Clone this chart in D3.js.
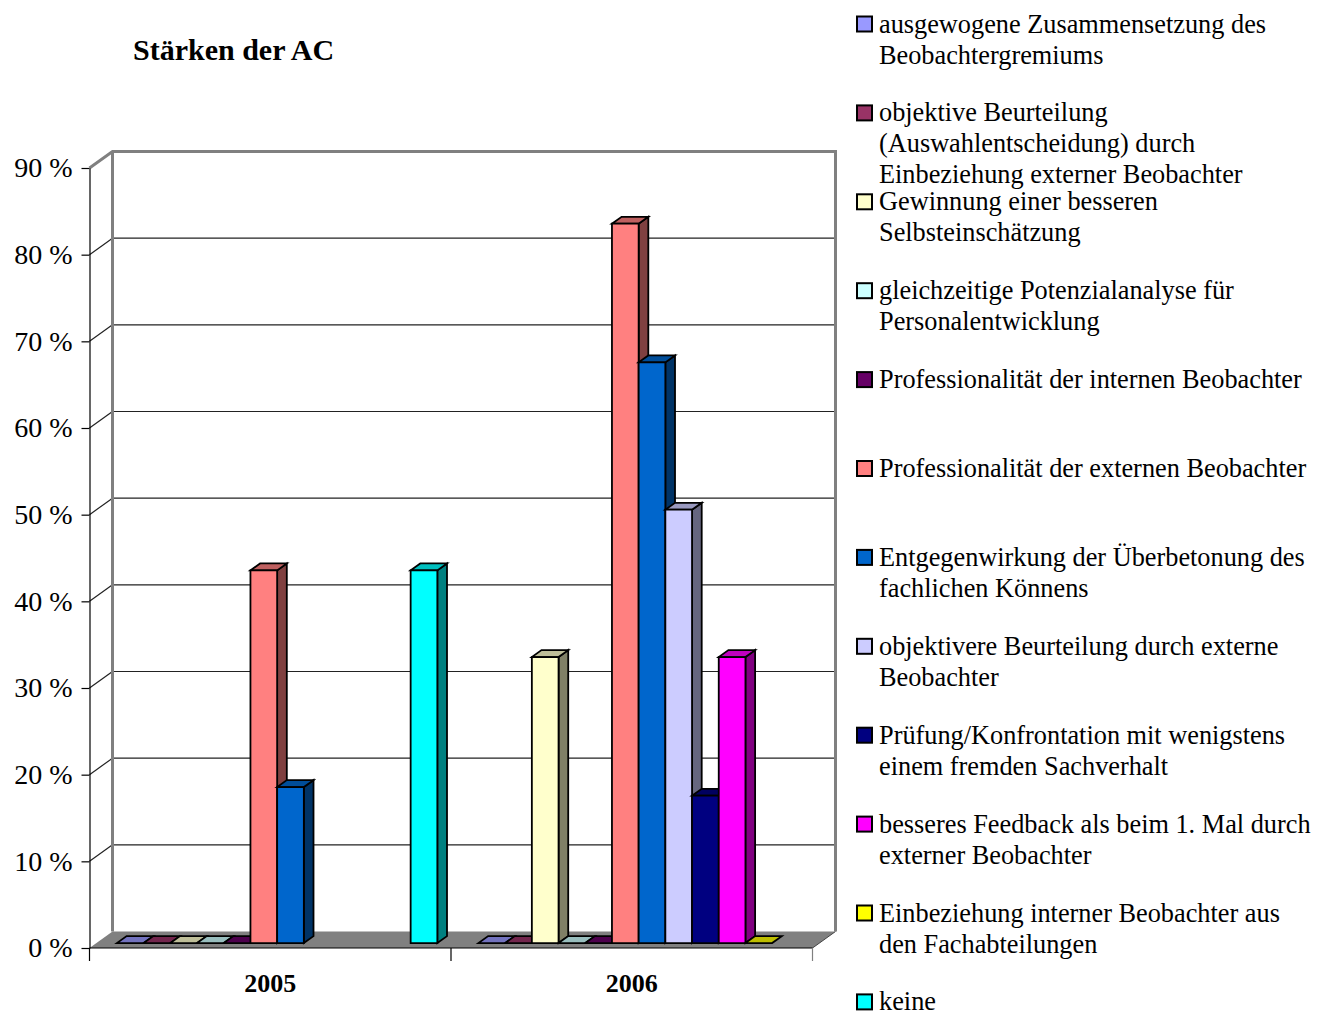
<!DOCTYPE html>
<html>
<head>
<meta charset="utf-8">
<script src="https://d3js.org/d3.v7.min.js"></script>
<style>
  html, body { margin: 0; padding: 0; background: #fff; }
  svg { display: block; font-family: "Liberation Serif", "Times New Roman", serif; }
</style>
</head>
<body>
<svg id="chart" width="1332" height="1017"></svg>
<script>
// Years on the category axis
const years = ["2005", "2006"];

// Answer options (legend order), each split into its printed lines
const seriesNames = [
  ["ausgewogene Zusammensetzung des", "Beobachtergremiums"],
  ["objektive Beurteilung", "(Auswahlentscheidung) durch", "Einbeziehung externer Beobachter"],
  ["Gewinnung einer besseren", "Selbsteinschätzung"],
  ["gleichzeitige Potenzialanalyse für", "Personalentwicklung"],
  ["Professionalität der internen Beobachter"],
  ["Professionalität der externen Beobachter"],
  ["Entgegenwirkung der Überbetonung des", "fachlichen Könnens"],
  ["objektivere Beurteilung durch externe", "Beobachter"],
  ["Prüfung/Konfrontation mit wenigstens", "einem fremden Sachverhalt"],
  ["besseres Feedback als beim 1. Mal durch", "externer Beobachter"],
  ["Einbeziehung interner Beobachter aus", "den Fachabteilungen"],
  ["keine"]
];

const seriesColors = [
  "#9999FF", "#993366", "#FFFFCC", "#CCFFFF", "#660066", "#FF8080",
  "#0066CC", "#CCCCFF", "#000080", "#FF00FF", "#FFFF00", "#00FFFF"
];

// Share of mentions in percent; null = option not asked that year
const values2005 = [0, 0, 0, 0, 0, 43, 18, null, null, null, null, 43];
const values2006 = [0, 0, 33, 0, 0, 83, 67, 50, 17, 33, 0, null];

const yTicks = [0, 10, 20, 30, 40, 50, 60, 70, 80, 90];

const valuesByYear = { "2005": values2005, "2006": values2006 };

(function draw() {
  const svg = d3.select("#chart");

  // Front plane of the 3-D box and its depth offset
  const plotLeft = 89.5, plotRight = 812.5, plotBottom = 948, plotTop = 168;
  const DX = 23, DY = 16.5;
  const barFront = 0.3, barBack = 0.72;

  const x0 = d3.scaleBand().domain(years).range([plotLeft, plotRight]).paddingInner(0).paddingOuter(0);
  const x1 = d3.scaleBand().domain(d3.range(seriesNames.length))
    .range([0, x0.bandwidth()]).paddingInner(0).paddingOuter(0.77);
  const y = d3.scaleLinear().domain([0, 90]).range([plotBottom, plotTop]);

  const P = (x, v, f) => [x + f * DX, y(v) - f * DY];
  const poly = pts => "M" + pts.map(p => p.join(",")).join("L") + "Z";

  // Back wall
  const g = svg.append("g");
  g.append("rect")
    .attr("x", plotLeft + DX).attr("y", plotTop - DY)
    .attr("width", plotRight - plotLeft).attr("height", plotBottom - plotTop)
    .attr("fill", "#fff");

  // Left side wall
  g.append("path")
    .attr("d", poly([[plotLeft, plotTop], [plotLeft + DX, plotTop - DY], [plotLeft + DX, plotBottom - DY], [plotLeft, plotBottom]]))
    .attr("fill", "#fff");

  // Gridlines on back and side walls
  yTicks.filter(t => t > 0 && t < 90).forEach(t => {
    g.append("line")
      .attr("x1", plotLeft + DX).attr("x2", plotRight + DX)
      .attr("y1", y(t) - DY).attr("y2", y(t) - DY)
      .attr("stroke", "#222").attr("stroke-width", 1.2);
    g.append("line")
      .attr("x1", plotLeft).attr("x2", plotLeft + DX)
      .attr("y1", y(t)).attr("y2", y(t) - DY)
      .attr("stroke", "#222").attr("stroke-width", 1.2);
  });

  // Floor
  g.append("path")
    .attr("d", poly([[plotLeft, plotBottom], [plotRight, plotBottom], [plotRight + DX, plotBottom - DY], [plotLeft + DX, plotBottom - DY]]))
    .attr("fill", "#808080");
  g.append("line")
    .attr("x1", plotRight).attr("y1", plotBottom).attr("x2", plotRight + DX).attr("y2", plotBottom - DY)
    .attr("stroke", "#444").attr("stroke-width", 1);

  // Wall frame
  g.append("path")
    .attr("d", `M${plotLeft},${plotTop}L${plotLeft + DX},${plotTop - DY}L${plotRight + DX},${plotTop - DY}L${plotRight + DX},${plotBottom - DY}`)
    .attr("fill", "none").attr("stroke", "#808080").attr("stroke-width", 3);
  g.append("line")
    .attr("x1", plotLeft + DX).attr("x2", plotLeft + DX)
    .attr("y1", plotTop - DY).attr("y2", plotBottom - DY)
    .attr("stroke", "#808080").attr("stroke-width", 3);

  // Value axis
  const yAxis = d3.axisLeft(y).tickValues(yTicks).tickSize(8).tickSizeOuter(0).tickPadding(9)
    .tickFormat(d => d + " %");
  const ya = svg.append("g").attr("transform", `translate(${plotLeft},0)`).call(yAxis);
  ya.select(".domain").attr("stroke", "#000").attr("stroke-width", 1.2);
  ya.selectAll(".tick line").attr("stroke", "#000").attr("stroke-width", 1.2);
  ya.selectAll(".tick text")
    .attr("font-family", "Liberation Serif, serif").attr("font-size", 28).attr("fill", "#000");

  // Category axis line and boundary ticks
  svg.append("line")
    .attr("x1", plotLeft).attr("x2", plotRight).attr("y1", plotBottom).attr("y2", plotBottom)
    .attr("stroke", "#000").attr("stroke-width", 1.2);
  const bounds = years.map(d => x0(d)).concat([x0(years[years.length - 1]) + x0.bandwidth()]);
  bounds.forEach((bx, i) => {
    svg.append("line")
      .attr("x1", bx).attr("x2", bx).attr("y1", plotBottom).attr("y2", plotBottom + 13)
      .attr("stroke", i === bounds.length - 1 ? "#808080" : "#000").attr("stroke-width", 1.2);
  });
  const xAxis = d3.axisBottom(x0).tickSize(0).tickPadding(26);
  const xa = svg.append("g").attr("transform", `translate(0,${plotBottom})`).call(xAxis);
  xa.select(".domain").remove();
  xa.selectAll(".tick text")
    .attr("font-family", "Liberation Serif, serif").attr("font-size", 26)
    .attr("font-weight", "bold").attr("fill", "#000");

  // 3-D columns, drawn left to right so each front face covers its neighbour's side
  const shade = (c, k) => { const r = d3.rgb(c); return d3.rgb(r.r * k, r.g * k, r.b * k).formatHex(); };
  const bars = svg.append("g");
  years.forEach(yr => {
    valuesByYear[yr].forEach((v, i) => {
      if (v === null) return;
      const xa0 = x0(yr) + x1(i), xa1 = xa0 + x1.bandwidth();
      const col = seriesColors[i];
      const bg = bars.append("g").attr("stroke", "#000").attr("stroke-width", 1.8).attr("stroke-linejoin", "miter");
      if (v > 0) {
        // side face
        bg.append("path")
          .attr("d", poly([P(xa1, 0, barFront), P(xa1, 0, barBack), P(xa1, v, barBack), P(xa1, v, barFront)]))
          .attr("fill", shade(col, 0.5));
      }
      // top face
      bg.append("path")
        .attr("d", poly([P(xa0, v, barFront), P(xa1, v, barFront), P(xa1, v, barBack), P(xa0, v, barBack)]))
        .attr("fill", shade(col, 0.75));
      if (v > 0) {
        // front face
        bg.append("path")
          .attr("d", poly([P(xa0, 0, barFront), P(xa1, 0, barFront), P(xa1, v, barFront), P(xa0, v, barFront)]))
          .attr("fill", col);
      }
    });
  });

  // Title
  svg.append("text")
    .attr("x", 133).attr("y", 60)
    .attr("font-size", 30).attr("font-weight", "bold").attr("fill", "#000")
    .text("Stärken der AC");

  // Legend
  const legend = svg.append("g");
  const legendTop = 32.5, legendStep = 88.9, lineH = 31;
  seriesNames.forEach((lines, i) => {
    const by = legendTop + i * legendStep;
    legend.append("rect")
      .attr("x", 857).attr("y", by - 16).attr("width", 15).attr("height", 15)
      .attr("fill", seriesColors[i]).attr("stroke", "#000").attr("stroke-width", 2);
    const t = legend.append("text")
      .attr("x", 879).attr("y", by)
      .attr("font-size", 26.3).attr("fill", "#000");
    lines.forEach((ln, j) => {
      t.append("tspan").attr("x", 879).attr("y", by + j * lineH).text(ln);
    });
  });
})();
</script>
</body>
</html>
